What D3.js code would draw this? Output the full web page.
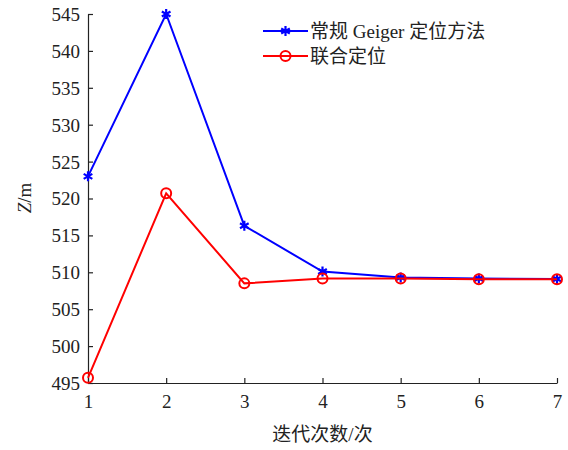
<!DOCTYPE html>
<html lang="zh">
<head>
<meta charset="UTF-8">
<title>迭代次数 vs Z</title>
<script src="https://d3js.org/d3.v7.min.js"></script>
<style>
  body { margin: 0; background: #fff; }
  text { fill: #222; }
</style>
</head>
<body>
<div id="chart"></div>
<script>
// data
var iterations = [1, 2, 3, 4, 5, 6, 7];
var geigerZ = [523.0, 545.0, 516.3, 510.1, 509.3, 509.15, 509.1];
var jointZ  = [495.7, 520.7, 508.5, 509.15, 509.15, 509.05, 509.05];
var yTicks = [495, 500, 505, 510, 515, 520, 525, 530, 535, 540, 545];
var seriesNames = ["常规 Geiger 定位方法", "联合定位"];

var SERIF = "'Liberation Serif', 'Times New Roman', Tinos, 'DejaVu Serif', serif, 'Noto Sans CJK SC'";

var W = 568, H = 450;
var margin = {top: 14, right: 11, bottom: 67, left: 88};
var width = W - margin.left - margin.right,
    height = H - margin.top - margin.bottom;

var svg = d3.select("#chart").append("svg")
    .attr("width", W).attr("height", H)
    .style("font-family", SERIF);
var g = svg.append("g")
    .attr("transform", "translate(" + margin.left + "," + margin.top + ")");

var x = d3.scaleLinear().domain([1, 7]).range([0, width]);
var y = d3.scaleLinear().domain([495, 545]).range([height, 0]);

// axes, ticks pointing inward
var xAxis = g.append("g")
    .attr("transform", "translate(0," + height + ")")
    .call(d3.axisBottom(x).tickValues(iterations).tickFormat(d3.format("d"))
        .tickSizeInner(-5).tickSizeOuter(0).tickPadding(12));
var yAxis = g.append("g")
    .call(d3.axisLeft(y).tickValues(yTicks).tickFormat(d3.format("d"))
        .tickSizeInner(-5).tickSizeOuter(0).tickPadding(8));
[xAxis, yAxis].forEach(function(a) {
    a.attr("font-family", null).attr("font-size", null);
    a.selectAll("path, line").attr("stroke", "#222").attr("stroke-width", 1.2);
    a.selectAll("text").attr("fill", "#222").style("font-family", SERIF).style("font-size", "19px");
});
yAxis.selectAll("text").attr("dy", "0.34em");

// axis labels
svg.append("text")
    .attr("x", margin.left + width / 2).attr("y", 441)
    .attr("text-anchor", "middle")
    .style("font-size", "19px")
    .text("迭代次数/次");
var yl = svg.append("text")
    .attr("transform", "translate(31,198) rotate(-90)")
    .attr("text-anchor", "middle")
    .style("font-size", "19px");
yl.append("tspan").style("font-style", "italic").text("Z");
yl.append("tspan").text("/m");

var line = d3.line()
    .x(function(d, i) { return x(iterations[i]); })
    .y(function(d) { return y(d); });

var asterisk = d3.symbol().type(d3.symbolAsterisk).size(70);

function drawBlue(sel, data) {
    sel.append("path").datum(data)
        .attr("fill", "none").attr("stroke", "#0000ff").attr("stroke-width", 2)
        .attr("d", line);
    sel.selectAll(".pb").data(data).enter().append("path")
        .attr("transform", function(d, i) { return "translate(" + x(iterations[i]) + "," + y(d) + ")"; })
        .attr("d", asterisk)
        .attr("fill", "none").attr("stroke", "#0000ff").attr("stroke-width", 2.2);
}
function drawRed(sel, data) {
    sel.append("path").datum(data)
        .attr("fill", "none").attr("stroke", "#ff0000").attr("stroke-width", 2)
        .attr("d", line);
    sel.selectAll(".pr").data(data).enter().append("circle")
        .attr("cx", function(d, i) { return x(iterations[i]); })
        .attr("cy", function(d) { return y(d); })
        .attr("r", 5)
        .attr("fill", "none").attr("stroke", "#ff0000").attr("stroke-width", 2);
}
drawBlue(g.append("g"), geigerZ);
drawRed(g.append("g"), jointZ);

// legend
var legend = svg.append("g").attr("transform", "translate(263,31)");
var colors = ["#0000ff", "#ff0000"];
seriesNames.forEach(function(name, i) {
    var row = legend.append("g").attr("transform", "translate(0," + (i * 25) + ")");
    row.append("line").attr("x1", 0).attr("x2", 45).attr("y1", 0).attr("y2", 0)
        .attr("stroke", colors[i]).attr("stroke-width", 2);
    if (i === 0) {
        row.append("path").attr("transform", "translate(22.5,0)")
            .attr("d", asterisk).attr("fill", "none").attr("stroke", colors[i]).attr("stroke-width", 2.2);
    } else {
        row.append("circle").attr("cx", 22.5).attr("cy", 0).attr("r", 5)
            .attr("fill", "none").attr("stroke", colors[i]).attr("stroke-width", 2);
    }
    row.append("text").attr("x", 47).attr("y", 7).style("font-size", "19px").text(name);
});
</script>
</body>
</html>
